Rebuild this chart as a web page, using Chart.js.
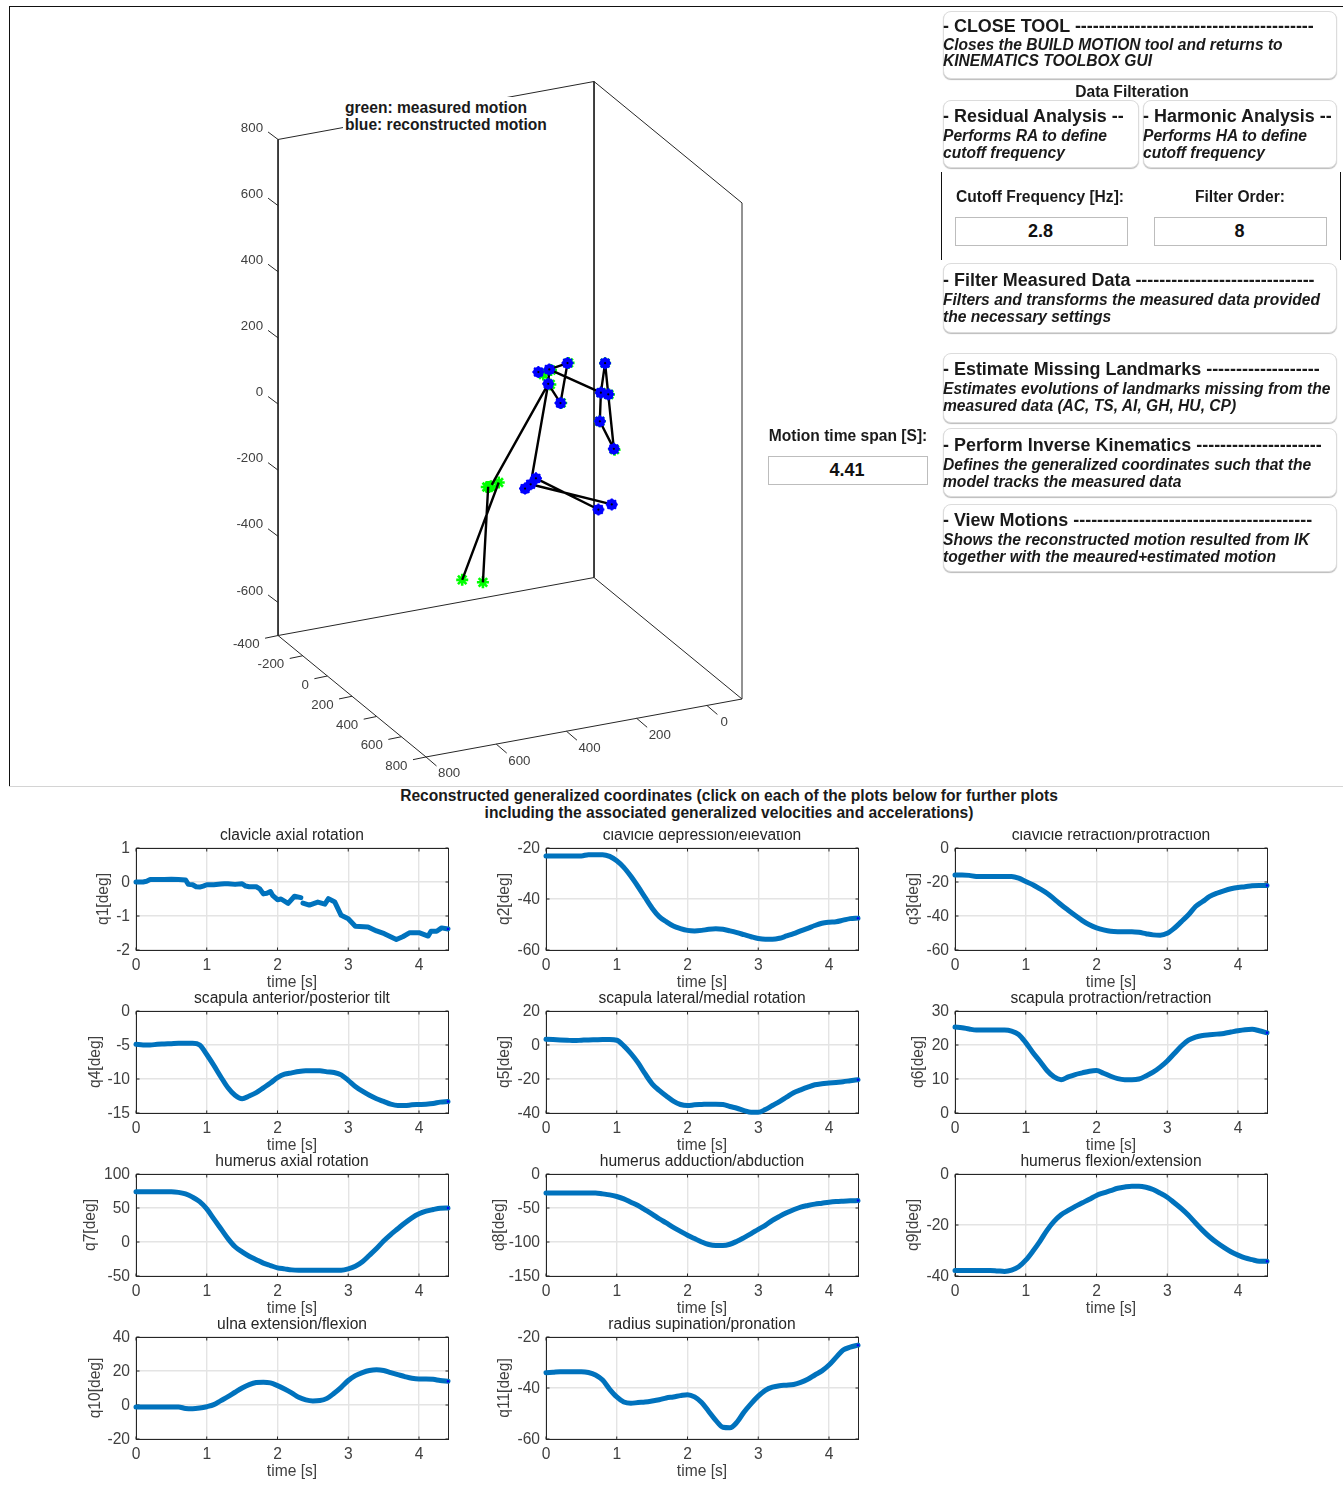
<!DOCTYPE html>
<html><head><meta charset="utf-8">
<script src="https://cdn.jsdelivr.net/npm/chart.js@4"></script>
<style>
html,body{margin:0;padding:0;background:#fff;width:1343px;height:1500px;overflow:hidden;font-family:"Liberation Sans",Arial,sans-serif;color:#000}
canvas{position:absolute}
.t{position:absolute;white-space:pre;color:#1a1a1a;font-weight:bold}
.btn{position:absolute;box-sizing:border-box;border:1px solid #dcdcdc;border-radius:8px;box-shadow:0 1px 1px #bbb;background:#fff}
.inp{position:absolute;box-sizing:border-box;border:1px solid #bdbdbd;background:#fff;text-align:center;font:bold 18px "Liberation Sans",Arial,sans-serif;color:#111;padding-right:2px}
.line{position:absolute;background:#111}
</style></head><body>
<canvas id="c3d" width="1343" height="787" style="left:0;top:0"></canvas>
<div id="ui"></div>
<div id="plots"></div>
<script>
// ---------- small plot data (degrees) ----------
const timeS = [0,.1,.2,.3,.4,.5,.6,.7,.8,.9,1,1.1,1.2,1.3,1.4,1.5,1.6,1.7,1.8,1.9,2,2.1,2.2,2.3,2.4,2.5,2.6,2.7,2.8,2.9,3,3.1,3.2,3.3,3.4,3.5,3.6,3.7,3.8,3.9,4,4.1,4.2,4.3,4.41];
const timeQ1 = [0,.1,.15,.2,.3,.4,.5,.6,.7,.74,.8,.85,.9,.95,1,1.1,1.2,1.25,1.3,1.4,1.5,1.55,1.6,1.7,1.75,1.8,1.85,1.9,1.93,2,2.05,2.15,2.24,2.33,2.345,2.36,2.45,2.57,2.67,2.72,2.81,2.9,3,3.1,3.28,3.4,3.51,3.68,3.77,3.87,4,4.13,4.17,4.25,4.32,4.41];
const q1 = [0,0,.02,.07,.07,.07,.08,.07,.06,-.07,-.08,-.14,-.15,-.12,-.08,-.08,-.06,-.05,-.05,-.07,-.05,-.12,-.14,-.14,-.2,-.35,-.33,-.28,-.39,-.52,-.5,-.63,-.42,-.46,null,-.62,-.68,-.59,-.65,-.49,-.59,-.98,-1.08,-1.3,-1.32,-1.44,-1.52,-1.69,-1.61,-1.49,-1.49,-1.59,-1.45,-1.45,-1.35,-1.38];
const q2 = [-23.1,-23.1,-23.1,-23.1,-23.1,-23.1,-22.6,-22.6,-22.6,-23.3,-25,-27.6,-31.1,-35.1,-39.4,-43.6,-46.9,-48.9,-50.6,-51.6,-52.3,-52.5,-52.3,-51.9,-51.7,-51.9,-52.5,-53.2,-54,-54.8,-55.5,-55.8,-55.8,-55.4,-54.5,-53.6,-52.5,-51.5,-50.4,-49.5,-49.1,-48.9,-48.3,-47.7,-47.5];
const q3 = [-15.9,-15.9,-16.1,-16.7,-16.7,-16.7,-16.7,-16.7,-16.7,-17.7,-19.7,-21.6,-24,-26.6,-29.9,-33.4,-36.6,-39.7,-42.7,-45.2,-47,-48.2,-49,-49.2,-49.2,-49.2,-49.6,-50.4,-51.1,-51.3,-50.2,-47.2,-43.3,-39.3,-34.4,-31.5,-28.5,-26.6,-25.2,-24,-23.2,-22.8,-22.2,-22,-22];
const q4 = [-4.9,-5,-5,-4.9,-4.85,-4.8,-4.75,-4.75,-4.75,-5,-6.4,-8,-9.7,-11.3,-12.4,-12.9,-12.5,-12,-11.3,-10.6,-9.8,-9.3,-9.1,-8.9,-8.8,-8.8,-8.8,-8.95,-9.05,-9.4,-10.2,-11.1,-11.8,-12.4,-12.9,-13.3,-13.7,-13.9,-13.9,-13.8,-13.75,-13.7,-13.6,-13.4,-13.3];
const q5 = [3.4,3.2,3,2.8,2.6,2.8,3,3.1,3.2,3.2,2.8,-.5,-5,-10.4,-16.9,-22.8,-26.7,-30,-33,-35,-35.6,-35.2,-35,-34.8,-34.8,-35,-36.2,-37.2,-38.6,-39.6,-39.6,-38,-35.6,-33.3,-30.7,-28.1,-26.4,-24.8,-23.4,-22.8,-22.4,-22,-21.6,-21,-20.4];
const q6 = [25.3,25.1,24.7,24.4,24.4,24.4,24.4,24.4,24.1,23.1,20.7,17.8,15.2,12.5,10.6,9.8,10.6,11.3,11.8,12.3,12.5,11.7,10.8,10.1,9.8,9.8,10,10.9,12,13.5,15.3,17.5,19.7,21.4,22.3,22.8,23,23.2,23.4,23.8,24.2,24.5,24.6,24.2,23.6];
const q7 = [74,74,74,74,74,74,73,70.6,66,59.4,48.7,34,19.5,5,-7,-14.6,-21,-26,-31,-34.6,-38,-39.5,-41,-41.4,-41.4,-41.4,-41.4,-41.4,-41.4,-41.4,-39.5,-35.6,-29,-19.5,-9.7,1.5,11,19.5,28,35.6,41.4,45.3,47.7,49.7,50];
const q8 = [-27.8,-27.8,-27.8,-27.8,-27.8,-27.8,-27.8,-27.8,-29.2,-30.7,-33.1,-36.5,-41.4,-46.3,-52.6,-58.9,-65.8,-72,-78.4,-84.3,-90,-95,-99.9,-103.7,-105.2,-105.2,-103.3,-98.9,-93.5,-87.7,-81.3,-75.5,-68.2,-62.3,-57,-52.6,-48.7,-46.3,-44.3,-42.9,-41.4,-40.4,-39.9,-39.5,-39];
const q9 = [-37.8,-37.8,-37.8,-37.8,-37.8,-37.8,-38,-38.2,-37.7,-36.4,-33.8,-30.3,-26.4,-22.1,-18.6,-16,-14.3,-12.7,-11.3,-9.9,-8.4,-7.4,-6.5,-5.6,-5.1,-4.8,-4.8,-5.2,-6.1,-7.5,-9.1,-11.3,-13.6,-16.2,-19.2,-22.1,-24.7,-26.9,-28.8,-30.5,-31.8,-32.9,-33.6,-34.2,-34.2];
const q10 = [-1.2,-1.2,-1.2,-1.2,-1.2,-1.2,-1.2,-2,-2.2,-1.8,-1,.2,2.6,4.9,7.5,10,12,13.2,13.4,13,11.4,9.4,7.1,4.5,3,2.4,2.6,3.9,6.9,10.4,14.4,17.3,19.1,20.3,20.7,20.3,19.1,17.9,16.7,15.7,15.3,15.3,15.1,14.4,14];
const q11 = [-34,-33.8,-33.6,-33.6,-33.6,-33.6,-33.9,-34.9,-36.9,-40.5,-43.5,-45.5,-46,-45.7,-45.5,-45.1,-44.6,-43.9,-43.5,-43,-42.6,-43.5,-45.7,-49.2,-52.7,-55.4,-55.6,-53.4,-49.4,-46.1,-43.2,-40.9,-39.7,-39.1,-38.9,-38.6,-37.8,-36.6,-34.9,-33.3,-31,-28,-25.1,-24,-23.2];
const plotTitles = ["clavicle axial rotation","clavicle depression/elevation","clavicle retraction/protraction","scapula anterior/posterior tilt","scapula lateral/medial rotation","scapula protraction/retraction","humerus axial rotation","humerus adduction/abduction","humerus flexion/extension","ulna extension/flexion","radius supination/pronation"];
const yLabels = ["q1[deg]","q2[deg]","q3[deg]","q4[deg]","q5[deg]","q6[deg]","q7[deg]","q8[deg]","q9[deg]","q10[deg]","q11[deg]"];
const yMins = [-2,-60,-60,-15,-40,0,-50,-150,-40,-20,-60];
const yMaxs = [1,-20,0,0,20,30,100,0,0,40,-20];
const ySteps = [1,20,20,5,20,10,50,50,20,20,20];
const xTickValues = [0,1,2,3,4];
const xLabel = "time [s]";

// ---------- 3D skeleton data (mm; depth taken as a constant plane) ----------
const axisX = [-100,800], axisY = [-400,800], axisZ = [-700,800];
const xTicks3d = [0,200,400,600,800], yTicks3d = [-400,-200,0,200,400,600,800], zTicks3d = [-600,-400,-200,0,200,400,600,800];
const blueX = [199,168,116,171,136,9,21,0,24,-16,206,221,237,28,-10];
const blueZ = [102,104,113,61,-4,92,5,-4,-81,-172,-218,-233,-243,-347,-339];
const greenX = [185,163,113,165,134,9,20,-2,24,-18,312,346,340,334,416,357];
const greenZ = [92,101,113,58,-4,92,5,-5,-81,-175,-210,-217,-218,-217,-484,-503];
const boneA = [2,2,4,5,2,6,6,7,8,9,4,11,12,11,12];
const boneB = [3,4,5,3,7,7,8,9,10,10,12,14,15,12,13];
const legX = [171,332,null,312,416,null,342,357];
const legZ = [61,-213,null,-210,-484,null,-217,-503];
const sharedDepth = 0;

// ---------- orthographic view of the 3D axes ----------
function project(X,Y,Z){
  return {x: 742-(X+100)*0.3511+(Y-800)*0.1233,
          y: 699+(X+100)*0.0644+(Y-800)*0.1012-(Z+700)*0.3307};
}
const P=(X,Y,Z)=>project(X,Y,Z);
const [x0,x1]=axisX,[y0,y1]=axisY,[z0,z1]=axisZ;
const boxPath=[P(x1,y0,z1),P(x1,y0,z0),P(x1,y1,z0),P(x0,y1,z0),P(x0,y1,z1),P(x0,y0,z1),P(x1,y0,z1),{x:null,y:null},
  P(x0,y0,z1),P(x0,y0,z0),P(x1,y0,z0),{x:null,y:null},P(x0,y0,z0),P(x0,y1,z0)];
const bonePts=[];
boneA.forEach((a,i)=>{const b=boneB[i];
  bonePts.push(P(blueX[a-1],sharedDepth,blueZ[a-1]),P(blueX[b-1],sharedDepth,blueZ[b-1]),{x:null,y:null});});
bonePts.push({x:null,y:null});
legX.forEach((x,i)=>bonePts.push(x===null?{x:null,y:null}:P(x,sharedDepth,legZ[i])));
const greenPts=greenX.map((x,i)=>P(x,sharedDepth,greenZ[i]));
const bluePts=blueX.map((x,i)=>P(x,sharedDepth,blueZ[i]));

const axis3dPlugin={id:'axis3d',afterDatasetsDraw(c){
  const g=c.ctx,sx=c.scales.x,sy=c.scales.y;
  const px=v=>sx.getPixelForValue(v),py=v=>sy.getPixelForValue(v);
  g.save();g.font='13.3px "Liberation Sans",Arial,sans-serif';g.fillStyle='#404040';g.strokeStyle='#262626';g.lineWidth=1;
  const seg=(a,dx,dy)=>{g.beginPath();g.moveTo(px(a.x),py(a.y));g.lineTo(px(a.x)+dx,py(a.y)+dy);g.stroke();};
  g.textBaseline='middle';g.textAlign='right';
  zTicks3d.forEach(z=>{const a=P(x1,y0,z);seg(a,-10,-7.5);g.fillText(String(z),px(a.x)-15,py(a.y)-11.5);});
  yTicks3d.forEach(y=>{const a=P(x1,y,z0);seg(a,-13,2.7);g.fillText(String(y),px(a.x)-18.5,py(a.y)+9);});
  g.textAlign='left';
  xTicks3d.forEach(x=>{const a=P(x,y1,z0);seg(a,10.5,9);g.fillText(String(x),px(a.x)+(x===0?13.5:12),py(a.y)+(x===800?16:17));});
  g.restore();
}};

new Chart(document.getElementById('c3d'),{type:'scatter',
  data:{datasets:[
    {label:'box',data:boxPath,showLine:true,borderColor:'#262626',borderWidth:1,pointRadius:0,spanGaps:false,order:5},
    {label:'measured',data:greenPts,pointStyle:'star',pointRadius:6,borderColor:'#00ff00',backgroundColor:'#00ff00',pointBorderWidth:2.6,order:4},
    {label:'bones',data:bonePts,showLine:true,borderColor:'#000',borderWidth:2.4,pointRadius:0,spanGaps:false,order:3},
    {label:'reconstructed',data:bluePts,pointStyle:'circle',pointRadius:5.4,borderColor:'#0000ff',backgroundColor:'#0000ff',pointBorderWidth:0,order:2},
    {label:'reconstructed star',data:bluePts,pointStyle:'star',pointRadius:6,borderColor:'#0000ff',backgroundColor:'#0000ff',pointBorderWidth:2,order:1},
    {label:'joint',data:bluePts,pointStyle:'circle',pointRadius:1.1,borderColor:'#000',backgroundColor:'#000',pointBorderWidth:0,order:0}
  ]},
  options:{responsive:false,animation:false,layout:{padding:0,autoPadding:false},
    plugins:{legend:{display:false},tooltip:{enabled:false},title:{display:false}},
    scales:{x:{type:'linear',display:false,min:0,max:1343},y:{type:'linear',display:false,min:0,max:787,reverse:true}}},
  plugins:[axis3dPlugin]});

// ---------- user interface text ----------
const ui=document.getElementById('ui');
function add(cls,css,text){const d=document.createElement('div');d.className=cls;d.style.cssText=css;if(text!==undefined)d.textContent=text;ui.appendChild(d);return d;}
const buttons=[
 [943,11,394,68,26,45,16,"- CLOSE TOOL ----------------------------------------",["Closes the BUILD MOTION tool and returns to","KINEMATICS TOOLBOX GUI"]],
 [943,100,196,68,116,135,17,"- Residual Analysis --",["Performs RA to define","cutoff frequency"]],
 [1143,100,194,68,116,135,17,"- Harmonic Analysis --",["Performs HA to define","cutoff frequency"]],
 [943,263,394,70,280,299,17,"- Filter Measured Data ------------------------------",["Filters and transforms the measured data provided","the necessary settings"]],
 [943,353,394,70,369,388,17,"- Estimate Missing Landmarks -------------------",["Estimates evolutions of landmarks missing from the","measured data (AC, TS, AI, GH, HU, CP)"]],
 [943,428,394,69,445,464,17,"- Perform Inverse Kinematics ---------------------",["Defines the generalized coordinates such that the","model tracks the measured data"]],
 [943,504,394,68,520,539,17,"- View Motions ----------------------------------------",["Shows the reconstructed motion resulted from IK","together with the meaured+estimated motion"]]
];
add('line','left:9px;top:6px;width:1334px;height:1px');
add('line','left:9px;top:6px;width:1px;height:781px');
add('line','left:9px;top:786px;width:1334px;height:1px;background:#d4d4d4');
add('line','left:941px;top:172px;width:1px;height:88px');
add('line','left:1340px;top:172px;width:1px;height:88px');
add('t','left:343px;top:97px;width:206px;height:37px;background:#fff',"");
add('t','left:345px;top:99px;font-size:15.6px;line-height:17px',"green: measured motion\nblue: reconstructed motion");
buttons.forEach(b=>{
  add('btn',`left:${b[0]}px;top:${b[1]}px;width:${b[2]}px;height:${b[3]}px`);
  add('t',`left:${b[0]}px;top:${b[4]-10}px;font-size:17.95px;line-height:20px`,b[7]);
  add('t',`left:${b[0]}px;top:${b[5]-b[6]/2}px;font-size:15.6px;line-height:${b[6]}px;font-style:italic`,b[8].join("\n"));
});
add('t','left:1032px;top:83px;width:200px;text-align:center;font-size:15.6px;line-height:17px',"Data Filteration");
add('t','left:940px;top:188px;width:200px;text-align:center;font-size:15.6px;line-height:17px',"Cutoff Frequency [Hz]:");
add('t','left:1140px;top:188px;width:200px;text-align:center;font-size:15.6px;line-height:17px',"Filter Order:");
add('inp','left:955px;top:217px;width:173px;height:29px;line-height:26px',"2.8");
add('inp','left:1154px;top:217px;width:173px;height:29px;line-height:26px',"8");
add('t','left:748px;top:427px;width:200px;text-align:center;font-size:15.6px;line-height:17px',"Motion time span [S]:");
add('inp','left:768px;top:456px;width:160px;height:29px;line-height:26px',"4.41");
add('t','left:395px;top:787px;width:668px;text-align:center;font-size:15.6px;line-height:17px;background:#fff',"Reconstructed generalized coordinates (click on each of the plots below for further plots\nincluding the associated generalized velocities and accelerations)");

// ---------- small plots ----------
const seriesList=[q1,q2,q3,q4,q5,q6,q7,q8,q9,q10,q11];
const plotX=[135.5,546,955], plotY=[848,1011,1174,1337];
const yTitleCenter=[103,505,914,95,505,919,90,500,914,95,505];
const M={l:70,t:24,r:12,b:44}, W=312.5, H=102;
const frame={id:'frame',beforeDatasetsDraw(c){
  const g=c.ctx,a=c.chartArea;g.save();g.strokeStyle='#262626';g.lineWidth=1;
  const L=Math.round(a.left)+.5,R=Math.round(a.right)+.5,T=Math.round(a.top)+.5,B=Math.round(a.bottom)+.5;
  g.strokeRect(L,T,R-L,B-T);g.beginPath();
  c.scales.x.ticks.forEach(t=>{const p=c.scales.x.getPixelForValue(t.value);g.moveTo(p,T);g.lineTo(p,T+3);g.moveTo(p,B);g.lineTo(p,B-3);});
  c.scales.y.ticks.forEach(t=>{const p=c.scales.y.getPixelForValue(t.value);g.moveTo(L,p);g.lineTo(L+3,p);g.moveTo(R,p);g.lineTo(R-3,p);});
  g.stroke();g.restore();}};
const FONT='"Liberation Sans",Arial,sans-serif';
const FS=15.6, LH=FS*1.2;
seriesList.forEach((vals,i)=>{
  const col=i%3,row=Math.floor(i/3),px=plotX[col],py=plotY[row];
  const cv=document.createElement('canvas');cv.width=M.l+W+M.r;cv.height=M.t+H+M.b;
  cv.style.left=(px-M.l)+'px';cv.style.top=(py-M.t)+'px';
  document.getElementById('plots').appendChild(cv);
  const ts=i===0?timeQ1:timeS;
  const last=vals.length-1;
  new Chart(cv,{type:'line',
    data:{datasets:[{data:vals.map((v,k)=>({x:ts[k],y:v})),borderColor:'#0072BD',borderWidth:5,borderCapStyle:'round',borderJoinStyle:'round',
      tension:0,cubicInterpolationMode:i===0?'default':'monotone',spanGaps:false,clip:false,
      pointRadius:ctx=>ctx.dataIndex===last?1.2:0,pointBackgroundColor:'#0000ff',pointBorderWidth:0}]},
    options:{responsive:false,animation:false,layout:{autoPadding:false,padding:{left:0,top:0,right:M.r,bottom:0}},
      plugins:{legend:{display:false},tooltip:{enabled:false},
        title:{display:true,fullSize:false,text:plotTitles[i],color:'#262626',font:{family:FONT,size:FS,weight:'normal',lineHeight:1.2},padding:{top:2,bottom:M.t-2-LH}}},
      scales:{
        x:{type:'linear',min:0,max:4.41,
          afterBuildTicks:s=>{s.ticks=xTickValues.map(v=>({value:v}));},
          afterFit:s=>{s.height=M.b;},
          grid:{color:'#e4e4e4',lineWidth:1.4,drawTicks:false},border:{display:false},
          ticks:{color:'#404040',font:{family:FONT,size:FS},padding:6,maxRotation:0,autoSkip:false,callback:v=>String(v)},
          title:{display:true,text:xLabel,color:'#404040',font:{family:FONT,size:FS,lineHeight:1.2},padding:{top:0,bottom:1.6}}},
        y:{type:'linear',min:yMins[i],max:yMaxs[i],
          afterBuildTicks:s=>{const t=[];for(let v=yMins[i];v<=yMaxs[i];v+=ySteps[i])t.push({value:v});s.ticks=t;},
          afterFit:s=>{s.width=M.l;},
          grid:{color:'#e4e4e4',lineWidth:1.4,drawTicks:false},border:{display:false},
          ticks:{color:'#404040',font:{family:FONT,size:FS},padding:6,labelOffset:.8,autoSkip:false,callback:v=>String(v)},
          title:{display:true,text:yLabels[i],color:'#404040',font:{family:FONT,size:FS,lineHeight:1.2},padding:{top:yTitleCenter[i]-(px-M.l)-LH/2,bottom:0}}}
      }},
    plugins:[frame]});
});
// the two neighbouring titles are trimmed at the top edge of their panes
add('t','left:560px;top:822px;width:740px;height:8.5px;background:#fff;z-index:5',"");
</script>
</body></html>
